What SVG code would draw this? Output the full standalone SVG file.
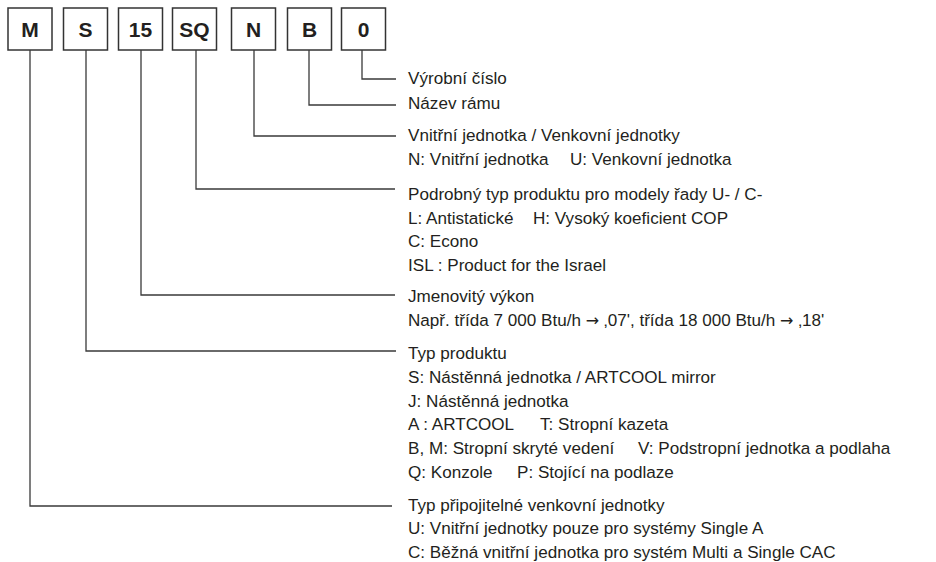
<svg xmlns="http://www.w3.org/2000/svg" width="936" height="562" viewBox="0 0 936 562">
<style>
.box{fill:#fff;stroke:#333;stroke-width:1.5}
.code{font-family:"Liberation Sans",Arial,sans-serif;font-weight:bold;font-size:21px;fill:#231f20;text-anchor:middle}
.lbl{font-family:"Liberation Sans",Arial,sans-serif;font-size:17.1px;fill:#231f20}
.arr{font-family:"DejaVu Sans",sans-serif;font-size:16px}
.con{fill:none;stroke:#3a3a3a;stroke-width:1.3}
</style>
<rect width="936" height="562" fill="#fff"/>
<g id="box-M"><rect class="box" x="8" y="8" width="44" height="42"/><text class="code" x="30" y="37">M</text></g>
<g id="box-S"><rect class="box" x="63.5" y="8" width="44" height="42"/><text class="code" x="85.5" y="37">S</text></g>
<g id="box-15"><rect class="box" x="118.5" y="8" width="44" height="42"/><text class="code" x="140.5" y="37">15</text></g>
<g id="box-SQ"><rect class="box" x="172.5" y="8" width="44" height="42"/><text class="code" x="194.5" y="37">SQ</text></g>
<g id="box-N"><rect class="box" x="231.5" y="8" width="44" height="42"/><text class="code" x="253.5" y="37">N</text></g>
<g id="box-B"><rect class="box" x="287.5" y="8" width="44" height="42"/><text class="code" x="309.5" y="37">B</text></g>
<g id="box-0"><rect class="box" x="341.5" y="8" width="44" height="42"/><text class="code" x="363.5" y="37">0</text></g>
<g id="connectors">
<polyline class="con" points="362,50 362,79 396,79"/>
<polyline class="con" points="309,50 309,105 396,105"/>
<polyline class="con" points="254,50 254,136 396,136"/>
<polyline class="con" points="196,50 196,189 395,189"/>
<polyline class="con" points="141,50 141,295 395,295"/>
<polyline class="con" points="86,50 86,351 396,351"/>
<polyline class="con" points="30,50 30,506 392,506"/>
</g>
<g id="label-0"><text class="lbl" x="408" y="84">Výrobní číslo</text></g>
<g id="label-B"><text class="lbl" x="408" y="109">Název rámu</text></g>
<g id="label-N">
<text class="lbl" x="408" y="141">Vnitřní jednotka / Venkovní jednotky</text>
<text class="lbl" x="408" y="165">N: Vnitřní jednotka</text>
<text class="lbl" x="570" y="165">U: Venkovní jednotka</text>
</g>
<g id="label-SQ">
<text class="lbl" x="408" y="200">Podrobný typ produktu pro modely řady U- / C-</text>
<text class="lbl" x="408" y="224">L: Antistatické</text>
<text class="lbl" x="533" y="224">H: Vysoký koeficient COP</text>
<text class="lbl" x="408" y="247">C: Econo</text>
<text class="lbl" x="408" y="271">ISL : Product for the Israel</text>
</g>
<g id="label-15">
<text class="lbl" x="408" y="302">Jmenovitý výkon</text>
<text class="lbl" x="408" y="326">Např. třída 7 000 Btu/h <tspan class="arr">→</tspan> ‚07', třída 18 000 Btu/h <tspan class="arr">→</tspan> ‚18'</text>
</g>
<g id="label-S">
<text class="lbl" x="408" y="359">Typ produktu</text>
<text class="lbl" x="408" y="383">S: Nástěnná jednotka / ARTCOOL mirror</text>
<text class="lbl" x="408" y="407">J: Nástěnná jednotka</text>
<text class="lbl" x="408" y="430">A : ARTCOOL</text>
<text class="lbl" x="540" y="430">T: Stropní kazeta</text>
<text class="lbl" x="408" y="454">B, M: Stropní skryté vedení</text>
<text class="lbl" x="638" y="454">V: Podstropní jednotka a podlaha</text>
<text class="lbl" x="408" y="478">Q: Konzole</text>
<text class="lbl" x="517" y="478">P: Stojící na podlaze</text>
</g>
<g id="label-M">
<text class="lbl" x="408" y="511">Typ připojitelné venkovní jednotky</text>
<text class="lbl" x="408" y="534">U: Vnitřní jednotky pouze pro systémy Single A</text>
<text class="lbl" x="408" y="558">C: Běžná vnitřní jednotka pro systém Multi a Single CAC</text>
</g>
</svg>
